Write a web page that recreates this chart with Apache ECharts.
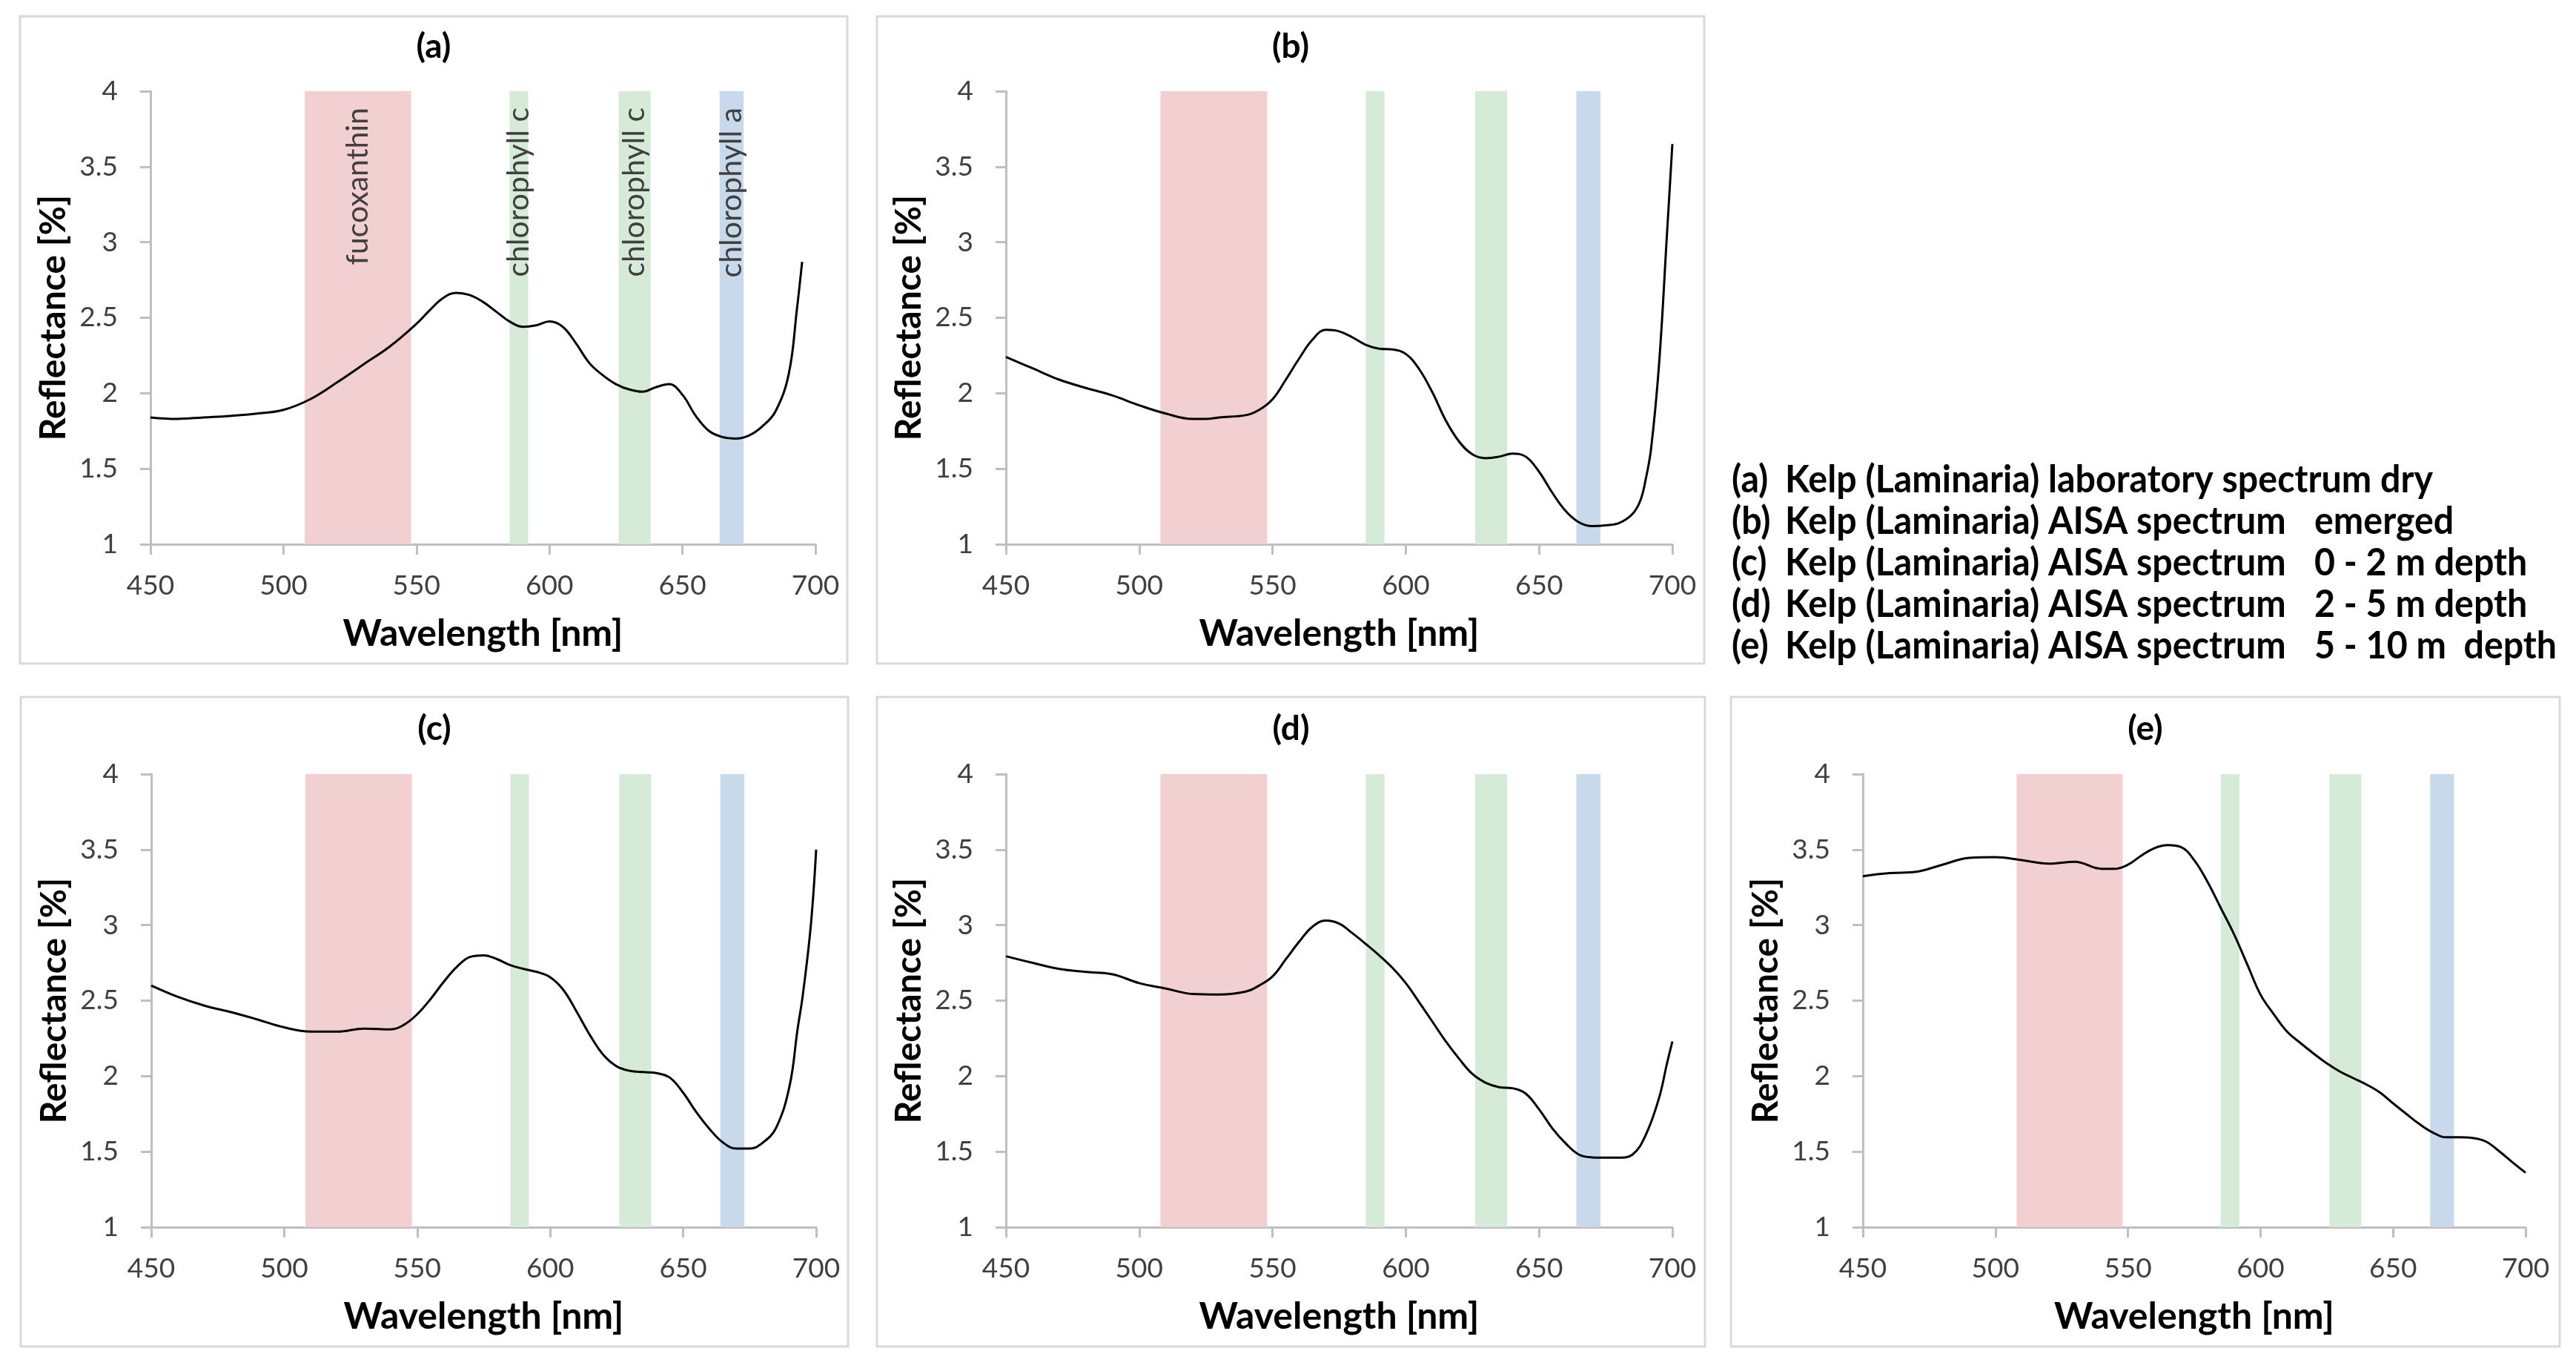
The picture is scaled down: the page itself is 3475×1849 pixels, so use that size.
<!DOCTYPE html>
<html>
<head>
<meta charset="utf-8">
<script src="https://cdn.jsdelivr.net/npm/echarts@6/dist/echarts.min.js"></script>
<style>
html,body{margin:0;padding:0;background:#fff;}
#chart{width:3475px;height:1849px;}
</style>
</head>
<body>
<div id="chart"></div>
<script>
// ---------- DATA ----------
const panelNames = ['(a)', '(b)', '(c)', '(d)', '(e)'];

const wlA = [450,460,470,480,490,500,510,520,530,540,550,555,560,565,570,575,580,585,590,595,600,605,610,615,620,625,630,635,640,645,650,655,660,665,670,675,680,685,690,693,695];
const reflA = [1.84,1.83,1.84,1.85,1.865,1.89,1.96,2.07,2.19,2.31,2.46,2.55,2.63,2.665,2.65,2.605,2.54,2.475,2.44,2.45,2.475,2.44,2.33,2.20,2.12,2.06,2.025,2.01,2.04,2.06,1.99,1.85,1.75,1.71,1.70,1.72,1.78,1.88,2.13,2.55,2.87];

const wlB = [450,460,470,480,490,500,510,520,525,530,540,545,550,555,560,565,570,575,580,585,590,595,600,605,610,615,620,625,630,635,640,645,650,655,660,665,670,675,680,685,688,690,692,695,698,700];
const reflB = [2.24,2.165,2.09,2.035,1.985,1.92,1.865,1.83,1.83,1.84,1.855,1.89,1.96,2.09,2.23,2.355,2.42,2.41,2.37,2.32,2.295,2.29,2.26,2.16,2.005,1.82,1.68,1.595,1.57,1.58,1.60,1.58,1.48,1.34,1.22,1.145,1.12,1.125,1.14,1.20,1.29,1.43,1.63,2.19,3.06,3.65];

const wlC = [450,460,470,480,490,500,510,520,530,540,545,550,555,560,565,570,575,580,585,590,595,600,605,610,615,620,625,630,635,640,645,650,655,660,665,670,675,680,685,690,693,695,698,700];
const reflC = [2.6,2.525,2.467,2.424,2.375,2.323,2.295,2.295,2.315,2.31,2.34,2.41,2.51,2.625,2.725,2.79,2.80,2.775,2.735,2.71,2.69,2.655,2.57,2.425,2.27,2.14,2.065,2.035,2.027,2.02,1.99,1.89,1.76,1.648,1.56,1.52,1.52,1.56,1.66,1.935,2.31,2.54,3.0,3.5];

const wlD = [450,460,470,480,490,500,510,520,530,540,545,550,555,560,565,570,575,580,585,590,595,600,605,610,615,620,625,630,635,640,645,650,655,660,665,670,675,680,685,690,695,698,700];
const reflD = [2.794,2.75,2.71,2.69,2.674,2.616,2.58,2.544,2.54,2.56,2.60,2.66,2.774,2.89,2.99,3.03,3.01,2.946,2.875,2.80,2.717,2.616,2.49,2.36,2.23,2.115,2.014,1.956,1.927,1.92,1.884,1.78,1.654,1.554,1.48,1.462,1.46,1.46,1.48,1.61,1.855,2.085,2.23];

const wlE = [450,460,470,480,490,500,510,520,530,540,545,550,555,560,565,570,575,580,585,590,595,600,605,610,615,620,625,630,635,640,645,650,655,660,665,670,675,680,685,690,695,700];
const reflE = [3.324,3.344,3.353,3.40,3.445,3.45,3.43,3.407,3.42,3.373,3.373,3.40,3.46,3.51,3.53,3.517,3.43,3.287,3.114,2.94,2.74,2.54,2.41,2.295,2.22,2.15,2.085,2.03,1.987,1.944,1.892,1.82,1.75,1.682,1.627,1.595,1.595,1.59,1.567,1.503,1.43,1.36];

// pigment absorption bands [start nm, end nm]
const bandNames = ['fucoxanthin', 'chlorophyll c', 'chlorophyll c', 'chlorophyll a'];
const bandStart = [508, 585, 626, 664];
const bandEnd = [548, 592, 638, 673];
const bandColors = ['#f2cfd1', '#d5ebd7', '#d5ebd7', '#c8d9ec'];

const xTicks = {min: 450, max: 700, step: 50};
const yTicks = {min: 1, max: 4, step: 0.5};

const xTitle = 'Wavelength [nm]';
const yTitle = 'Reflectance [%]';

const legendTags = ['(a)', '(b)', '(c)', '(d)', '(e)'];
const legendDesc = ['Kelp (Laminaria) laboratory spectrum dry', 'Kelp (Laminaria) AISA spectrum', 'Kelp (Laminaria) AISA spectrum', 'Kelp (Laminaria) AISA spectrum', 'Kelp (Laminaria) AISA spectrum'];
const legendCond = ['', 'emerged', '0 - 2 m depth', '2 - 5 m depth', '5 - 10 m  depth'];

// ---------- LAYOUT ----------
const FONT = 'Lato, "Open Sans", sans-serif';
const grids = [
  {left: 203, top: 123, width: 897, height: 611},
  {left: 1357, top: 123, width: 899, height: 611},
  {left: 204, top: 1044, width: 897, height: 611},
  {left: 1357, top: 1044, width: 899, height: 611},
  {left: 2513, top: 1044, width: 894, height: 611}
];
const frames = [
  [27, 22, 1143, 895],
  [1183, 22, 2299, 895],
  [28, 940, 1144, 1816],
  [1183, 940, 2300, 1816],
  [2335, 940, 3453, 1816]
];
const titleY = [63, 63, 983, 983, 983];

const series = [[wlA, reflA], [wlB, reflB], [wlC, reflC], [wlD, reflD], [wlE, reflE]];

const axisColor = '#bfbfbf';

const xAxes = grids.map((g, i) => ({
  type: 'value', gridIndex: i,
  min: xTicks.min, max: xTicks.max, interval: xTicks.step,
  axisLine: {show: true, onZero: false, lineStyle: {color: axisColor, width: 3}},
  axisTick: {show: true, length: 14, lineStyle: {color: axisColor, width: 3}},
  axisLabel: {fontSize: 37, color: '#404040', margin: 38, fontFamily: FONT},
  splitLine: {show: false},
  name: xTitle, nameLocation: 'middle', nameGap: 96,
  nameTextStyle: {fontSize: 50, fontWeight: 'bold', color: '#000', fontFamily: FONT}
}));
const yAxes = grids.map((g, i) => ({
  type: 'value', gridIndex: i,
  min: yTicks.min, max: yTicks.max, interval: yTicks.step,
  axisLine: {show: true, lineStyle: {color: axisColor, width: 3}},
  axisTick: {show: true, length: 14, lineStyle: {color: axisColor, width: 3}},
  axisLabel: {fontSize: 37, color: '#404040', margin: 44, fontFamily: FONT},
  splitLine: {show: false},
  name: yTitle, nameLocation: 'middle', nameRotate: 90, nameGap: 106,
  nameTextStyle: {fontSize: 48, fontWeight: 'bold', color: '#000', fontFamily: FONT}
}));

const seriesList = [];
series.forEach((s, i) => {
  const data = s[0].map((w, k) => [w, s[1][k]]);
  seriesList.push({
    type: 'line', xAxisIndex: i, yAxisIndex: i,
    data: data, showSymbol: false, smooth: 0.4,
    lineStyle: {color: '#000', width: 3}, z: 5,
    silent: true,
    markArea: {
      silent: true,
      label: {
        show: i === 0, position: 'insideTop', rotate: 90, align: 'right', verticalAlign: 'middle',
        distance: 22, fontSize: 41, color: '#404040', fontFamily: FONT
      },
      data: bandNames.map((n, b) => [
        {name: n, xAxis: bandStart[b], itemStyle: {color: bandColors[b], opacity: 1}},
        {xAxis: bandEnd[b]}
      ])
    }
  });
});

const graphics = [];
frames.forEach((f, i) => {
  graphics.push({
    type: 'rect', silent: true, z: 0,
    shape: {x: f[0], y: f[1], width: f[2] - f[0], height: f[3] - f[1]},
    style: {fill: null, stroke: '#d9d9d9', lineWidth: 3}
  });
  graphics.push({
    type: 'text', silent: true,
    x: (f[0] + f[2]) / 2, y: titleY[i],
    style: {text: panelNames[i], font: 'bold 46px ' + FONT, fill: '#000', align: 'center', verticalAlign: 'middle'}
  });
});
const legendFont = 'bold 52px ' + FONT;
const legendScale = 0.93;
legendTags.forEach((t, i) => {
  const y = 647 + i * 56;
  graphics.push({type: 'text', silent: true, x: 2336, y: y, scaleX: legendScale,
    style: {text: t, font: legendFont, fill: '#000', align: 'left', verticalAlign: 'middle'}});
  graphics.push({type: 'text', silent: true, x: 2408, y: y, scaleX: legendScale,
    style: {text: legendDesc[i], font: legendFont, fill: '#000', align: 'left', verticalAlign: 'middle'}});
  if (legendCond[i]) {
    graphics.push({type: 'text', silent: true, x: 3122, y: y, scaleX: legendScale,
      style: {text: legendCond[i], font: legendFont, fill: '#000', align: 'left', verticalAlign: 'middle'}});
  }
});

const chart = echarts.init(document.getElementById('chart'), null, {renderer: 'canvas'});
chart.setOption({
  animation: false,
  backgroundColor: '#fff',
  grid: grids,
  xAxis: xAxes,
  yAxis: yAxes,
  series: seriesList,
  graphic: graphics
});
</script>
</body>
</html>
